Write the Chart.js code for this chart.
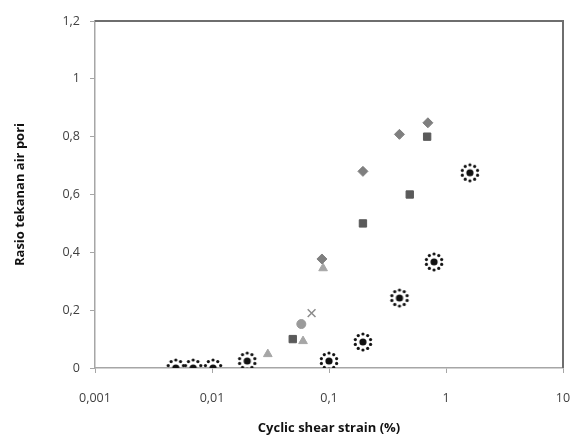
<!DOCTYPE html>
<html>
<head>
<meta charset="utf-8">
<script src="https://cdn.jsdelivr.net/npm/chart.js@4/dist/chart.umd.min.js"></script>
<style>
  html, body { margin: 0; padding: 0; background: #fff; }
  #wrap { width: 577px; height: 439px; }
</style>
</head>
<body>
<div id="wrap"><canvas id="poreChart"></canvas></div>
<script>
// --- data ---
const xTicks = [0.001, 0.01, 0.1, 1, 10];
const yTicks = [0, 0.2, 0.4, 0.6, 0.8, 1, 1.2];

const diamondX = [0.087, 0.195, 0.40, 0.70];
const diamondY = [0.377, 0.68, 0.808, 0.848];

const squareX = [0.049, 0.195, 0.49, 0.69];
const squareY = [0.10, 0.50, 0.60, 0.80];

const triangleX = [0.030, 0.06, 0.089];
const triangleY = [0.048, 0.093, 0.345];

const circleX = [0.058];
const circleY = [0.152];

const crossX = [0.071];
const crossY = [0.19];

const dottedX = [0.0049, 0.0069, 0.0102, 0.020, 0.10, 0.195, 0.40, 0.79, 1.6];
const dottedY = [0, 0, 0, 0.024, 0.024, 0.09, 0.242, 0.367, 0.675];

const toPoints = (xs, ys) => xs.map((x, i) => ({ x: x, y: ys[i] }));
const comma = v => String(v).replace('.', ',');

// black dot with a ring of small dots
function dottedMarker() {
  const c = document.createElement('canvas');
  c.width = 22; c.height = 22;
  const g = c.getContext('2d');
  g.fillStyle = '#111';
  g.beginPath(); g.arc(11, 11, 3.6, 0, Math.PI * 2); g.fill();
  for (let k = 0; k < 10; k++) {
    const a = k * Math.PI / 5 + Math.PI / 10;
    g.beginPath();
    g.arc(11 + Math.cos(a) * 8, 11 + Math.sin(a) * 8, 1.6, 0, Math.PI * 2);
    g.fill();
  }
  return c;
}

// dark frame on top and right like the original
const framePlugin = {
  id: 'frame',
  afterDraw(chart) {
    const { ctx, chartArea: a } = chart;
    ctx.save();
    ctx.strokeStyle = '#6e6e6e';
    ctx.lineWidth = 2;
    ctx.beginPath();
    ctx.moveTo(a.left, a.top);
    ctx.lineTo(a.right, a.top);
    ctx.lineTo(a.right, a.bottom);
    ctx.stroke();
    ctx.restore();
  }
};

const tickFont = { family: 'Open Sans', size: 12.5 };
const titleFont = { family: 'Open Sans', size: 13, weight: 'bold' };

new Chart(document.getElementById('poreChart'), {
  type: 'scatter',
  data: {
    datasets: [
      { data: toPoints(diamondX, diamondY), pointStyle: 'rectRot', radius: 5,
        backgroundColor: '#7f7f7f', borderColor: '#7f7f7f' },
      { data: toPoints(squareX, squareY), pointStyle: 'rect', radius: 5.2,
        backgroundColor: '#5a5a5a', borderColor: '#5a5a5a' },
      { data: toPoints(triangleX, triangleY), pointStyle: 'triangle', radius: 5,
        backgroundColor: '#a6a6a6', borderColor: '#a6a6a6' },
      { data: toPoints(circleX, circleY), pointStyle: 'circle', radius: 4.5,
        backgroundColor: '#9a9a9a', borderColor: '#9a9a9a' },
      { data: toPoints(crossX, crossY), pointStyle: 'crossRot', radius: 5.5,
        borderWidth: 1.5, backgroundColor: '#8c8c8c', borderColor: '#8c8c8c' },
      { data: toPoints(dottedX, dottedY), pointStyle: dottedMarker(), radius: 11 }
    ]
  },
  options: {
    responsive: true,
    maintainAspectRatio: false,
    animation: false,
    layout: { padding: { top: 21, right: 14, left: 0, bottom: 0 } },
    plugins: { legend: { display: false }, tooltip: { enabled: false } },
    scales: {
      x: {
        type: 'logarithmic',
        min: 0.001, max: 10,
        afterBuildTicks: s => { s.ticks = xTicks.map(v => ({ value: v })); },
        afterFit: s => { s.height = 71; s.paddingLeft = 0; s.paddingRight = 0; },
        grid: { drawOnChartArea: false, color: '#a6a6a6', tickLength: 5 },
        border: { color: '#a6a6a6', width: 1.5 },
        ticks: { color: '#404040', font: tickFont, padding: 18, maxRotation: 0,
                 callback: v => comma(v) },
        title: { display: true, text: 'Cyclic shear strain (%)', color: '#111',
                 font: titleFont, padding: { top: 4, bottom: 3 } }
      },
      y: {
        min: 0, max: 1.2,
        afterBuildTicks: s => { s.ticks = yTicks.map(v => ({ value: v })); },
        afterFit: s => { s.width = 95; },
        grid: { drawOnChartArea: false, color: '#a6a6a6', tickLength: 5 },
        border: { color: '#a6a6a6', width: 1.5 },
        ticks: { color: '#404040', font: tickFont, padding: 10,
                 callback: v => comma(Math.round(v * 10) / 10) },
        title: { display: true, text: 'Rasio tekanan air pori', color: '#111',
                 font: titleFont, padding: { top: 12, bottom: 12 } }
      }
    }
  },
  plugins: [framePlugin]
});
</script>
</body>
</html>
